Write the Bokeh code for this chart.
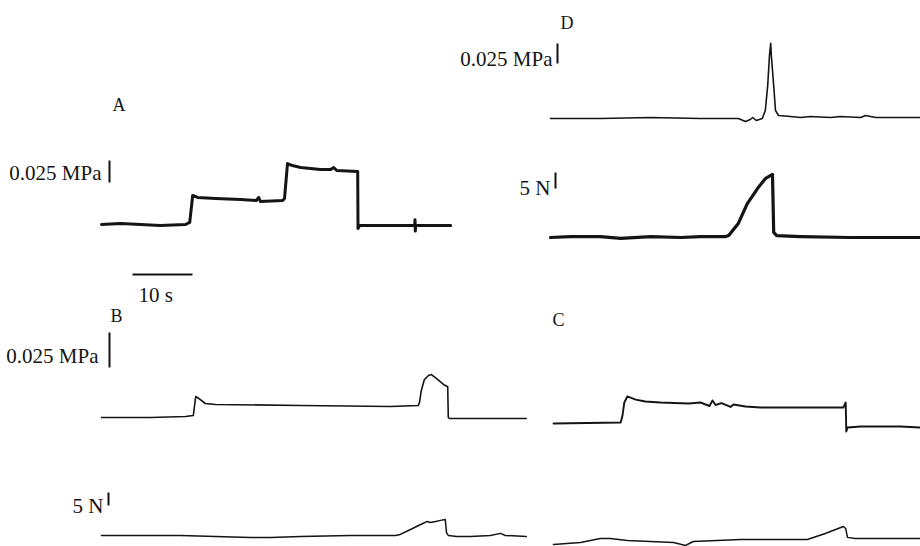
from bokeh.plotting import figure
from bokeh.models import Range1d
from bokeh.core.properties import value
from bokeh.embed import file_html
from bokeh.resources import INLINE

# ---------------- data (time in s, pressure in kPa, force in N) ----------------
a_time = [0, 3.2, 6.5, 9.8, 14.0, 14.7, 15.2, 16.0, 19.0, 23.2, 25.8, 26.2, 26.5, 30.2, 30.5,
          31.0, 31.8, 33.2, 36.5, 38.2, 38.7, 39.2, 42.7, 42.75, 43.0, 49.8, 52.2, 52.25, 52.3,
          52.35, 58.2]
a_kpa = [0, 1.1, 0, -1.0, 0, 2.3, 33.0, 30.7, 29.5, 28.4, 27.3, 30.7, 26.0, 27.3, 29.5,
         69.3, 67.0, 64.8, 62.5, 62.5, 64.8, 61.4, 60.2, -4.5, -1.1, -1.1, -1.0, 5.5, -7.5,
         -1.1, -1.1]

b_time = [0, 8.2, 14.0, 15.3, 15.7, 16.2, 17.3, 19.0, 33.2, 48.2, 52.8, 53.0, 53.3, 53.8,
          54.5, 55.0, 55.8, 57.0, 57.7, 57.8, 58.0, 70.8]
b_kpa = [0, 0, 0.7, 1.4, 15.0, 13.6, 10.0, 9.3, 8.6, 7.9, 8.6, 10.7, 19.3, 27.0,
         30.0, 30.7, 27.9, 23.6, 22.0, 0, -0.7, -0.7]

b_force_time = [0, 13.2, 24.8, 28.2, 33.2, 41.5, 49.0, 49.8, 51.5, 53.2, 54.3, 54.8, 55.7,
                56.5, 57.3, 57.5, 57.8, 59.2, 61.5, 64.8, 66.5, 67.3, 70.8]
b_force_n = [0.4, 0.4, -0.4, -0.4, 0, 0.4, 0.4, 0.8, 2.7, 4.6, 5.8, 5.4, 5.8,
             6.2, 6.5, 1.5, 0.4, 0, 0, 0.4, 1.2, 0.4, 0]

d_time = [0, 8.3, 16.7, 25.0, 31.3, 32.5, 33.3, 33.7, 34.3, 35.3, 35.8, 36.2, 36.5, 36.7,
          36.8, 37.2, 37.5, 38.0, 40.0, 41.7, 43.3, 46.7, 48.3, 51.7, 52.5, 54.2, 61.7]
d_kpa = [0, 0, 1.25, 0, 0, -3.75, -1.25, 1.25, -2.5, 0, 10.0, 41.0, 79.0, 94.0,
         79.0, 41.0, 10.0, 3.75, 2.5, 1.25, 2.5, 1.25, 2.5, 1.25, 3.75, 1.25, 1.25]

d_force_time = [0, 3.3, 8.3, 11.7, 16.7, 21.7, 25.0, 29.2, 29.7, 31.3, 32.8, 34.5, 35.8,
                36.7, 37.0, 37.2, 37.7, 41.7, 50.0, 61.7]
d_force_n = [0, 0.3, 0.3, -0.3, 0.3, 0, 0.3, 0.3, 0.6, 4.4, 10.6, 15.3, 18.4,
             19.4, 19.7, 1.6, 0.6, 0.3, 0, 0]

c_time = [0, 11.2, 11.5, 11.8, 12.3, 13.7, 15.3, 17.8, 22.5, 24.5, 26.0, 26.5, 27.0, 28.0,
          29.5, 30.0, 32.0, 34.5, 41.0, 48.3, 48.7, 48.8, 49.0, 51.2, 57.8, 61.2]
c_kpa = [0, 0.7, 5.7, 15.0, 19.3, 17.1, 15.7, 15.0, 14.3, 15.0, 12.5, 16.5, 13.2, 14.6,
         11.8, 13.6, 12.1, 11.4, 11.4, 11.4, 15.0, -5.7, -2.9, -2.1, -2.1, -2.9]

c_force_time = [0, 4.5, 7.8, 9.5, 12.3, 20.0, 22.0, 23.3, 31.2, 42.3, 45.3, 48.3, 48.7,
                49.0, 50.3, 61.2]
c_force_n = [-1.5, -0.8, 0.8, 0.8, 0, -0.8, -1.9, -0.4, 0.4, 0.4, 2.7, 5.4, 4.6,
             1.2, 0.8, 0.8]

panel_letters = ["A", "B", "D", "C"]
pressure_label = "0.025 MPa"
force_label = "5 N"
time_label = "10 s"
pressure_bar_kpa = 25
force_bar_n = 5
time_bar_s = 10

# ---------------- layout ----------------
W, H = 920, 546
PX_S = 6.0  # pixels per second
INK = "#141414"
FONT = value("Liberation Serif")

p = figure(width=W, height=H, output_backend="svg", toolbar_location=None,
           x_range=Range1d(0, W), y_range=Range1d(H, 0),
           x_axis_type=None, y_axis_type=None, min_border=0)
p.outline_line_color = None
p.grid.visible = False
p.background_fill_color = "white"
p.border_fill_color = "white"


def add_trace(name, t, v, x0, y0, k, lw):
    p.extra_x_ranges[name] = Range1d(-x0 / PX_S, (W - x0) / PX_S)
    p.extra_y_ranges[name] = Range1d((y0 - H) / k, y0 / k)
    p.line(t, v, x_range_name=name, y_range_name=name, line_color=INK,
           line_width=lw, line_join="round", line_cap="round")


def add_vbar(name, bx, bottom_px, y0, k, length):
    vb = (y0 - bottom_px) / k
    p.segment(x0=[bx], x1=[bx], y0=[vb], y1=[vb + length], y_range_name=name,
              line_color=INK, line_width=2)


# name, time, values, x0, baseline y px, px per unit, line width
add_trace("A", a_time, a_kpa, 101, 224, 22 / 25, 3.0)
add_trace("Bp", b_time, b_kpa, 101, 417, 35 / 25, 1.6)
add_trace("Bf", b_force_time, b_force_n, 101, 536, 13 / 5, 1.5)
add_trace("Dp", d_time, d_kpa, 550, 118, 20 / 25, 1.6)
add_trace("Df", d_force_time, d_force_n, 550, 237, 16 / 5, 3.2)
add_trace("Cp", c_time, c_kpa, 553, 423, 35 / 25, 1.9)
add_trace("Cf", c_force_time, c_force_n, 553, 540, 13 / 5, 1.5)

# scale bars
add_vbar("A", 109, 182, 224, 22 / 25, pressure_bar_kpa)
add_vbar("Bp", 109, 367, 417, 35 / 25, pressure_bar_kpa)
add_vbar("Bf", 108, 505, 536, 13 / 5, force_bar_n)
add_vbar("Dp", 557, 63, 118, 20 / 25, pressure_bar_kpa)
add_vbar("Df", 555, 188, 237, 16 / 5, force_bar_n)

tb0 = (132 - 101) / PX_S
p.segment(x0=[tb0], x1=[tb0 + time_bar_s], y0=[274], y1=[274], x_range_name="A",
          line_color=INK, line_width=2)

# texts
SZ_LABEL = "21px"
SZ_LETTER = "18px"
p.text(x=[101, 98, 552], y=[172, 355, 58], text=[pressure_label] * 3,
       text_font=FONT, text_font_size=SZ_LABEL, text_color=INK,
       text_align="right", text_baseline="alphabetic")
p.text(x=[103, 550], y=[505, 187], text=[force_label] * 2,
       text_font=FONT, text_font_size=SZ_LABEL, text_color=INK,
       text_align="right", text_baseline="alphabetic")
p.text(x=[138], y=[294], text=[time_label],
       text_font=FONT, text_font_size=SZ_LABEL, text_color=INK,
       text_align="left", text_baseline="alphabetic")
p.text(x=[112, 110, 560, 552], y=[104, 315, 22, 319], text=panel_letters,
       text_font=FONT, text_font_size=SZ_LETTER, text_color=INK,
       text_align="left", text_baseline="alphabetic")

open("out.html", "w").write(file_html(p, INLINE))
